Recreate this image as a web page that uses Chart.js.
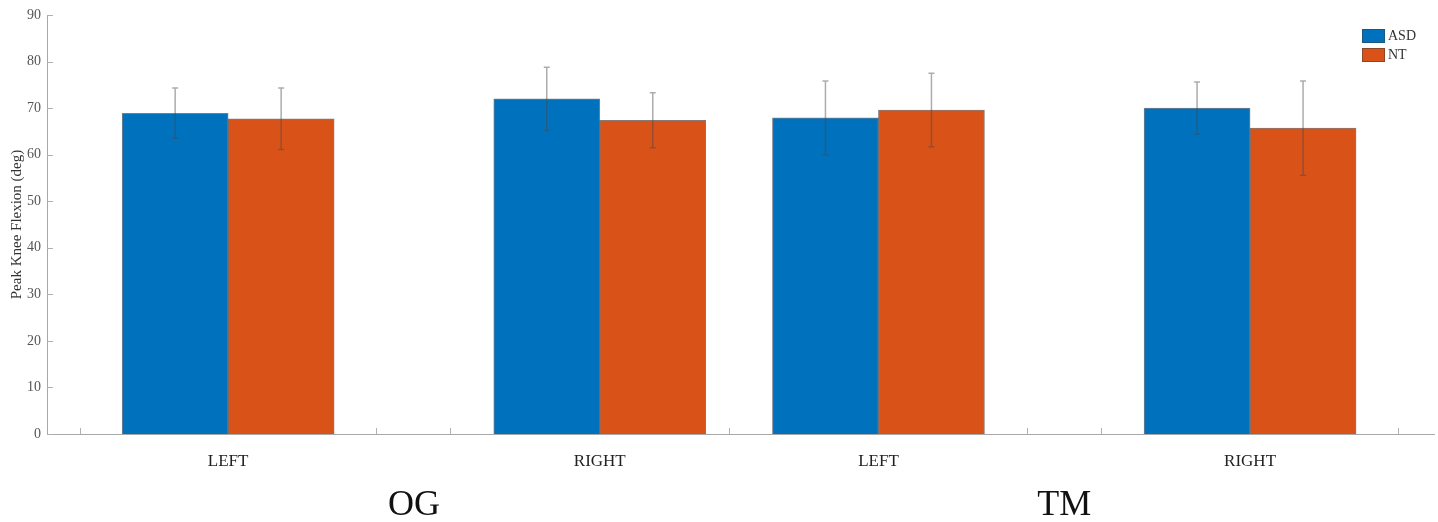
<!DOCTYPE html>
<html>
<head>
<meta charset="utf-8">
<title>Peak Knee Flexion</title>
<script src="https://cdn.jsdelivr.net/npm/chart.js@4.4.0/dist/chart.umd.min.js"></script>
<style>
	html, body { margin: 0; padding: 0; background: #ffffff; }
	#wrap { width: 1438px; height: 522px; }
</style>
</head>
<body>
<div id="wrap"><canvas id="knee" width="1438" height="522"></canvas></div>
<script>
/* datos */
const sides = ["LEFT", "RIGHT", "LEFT", "RIGHT"];
const sidePos = [2, 6, 9, 13];
const conditions = ["OG", "TM"];
const conditionPos = [4, 11];
const asdMean = [68.9, 72.0, 67.9, 70.0];
const asdSD = [5.4, 6.8, 7.9, 5.6];
const ntMean = [67.7, 67.4, 69.6, 65.7];
const ntSD = [6.6, 5.9, 7.9, 10.1];
const yTicks = [0, 10, 20, 30, 40, 50, 60, 70, 80, 90];
const xMinorTicks = [0.4, 3.59, 4.39, 7.39, 10.6, 11.4, 14.59];

const serif = "'Liberation Serif', 'DejaVu Serif', serif";

function toPoints(vals) {
	return vals.map((v, i) => ({ x: sidePos[i], y: v }));
}

/* barras de error (media +- DE) */
const errorBars = {
	id: "errorBars",
	afterDatasetsDraw(chart) {
		const ctx = chart.ctx;
		const yScale = chart.scales.y;
		const sds = [asdSD, ntSD];
		ctx.save();
		ctx.strokeStyle = "rgba(70, 70, 70, 0.45)";
		ctx.lineWidth = 1.5;
		chart.data.datasets.forEach((ds, di) => {
			const meta = chart.getDatasetMeta(di);
			meta.data.forEach((bar, i) => {
				const m = ds.data[i].y;
				const top = yScale.getPixelForValue(m + sds[di][i]);
				const bot = yScale.getPixelForValue(m - sds[di][i]);
				ctx.beginPath();
				ctx.moveTo(bar.x, top);
				ctx.lineTo(bar.x, bot);
				ctx.moveTo(bar.x - 3, top);
				ctx.lineTo(bar.x + 3, top);
				ctx.moveTo(bar.x - 3, bot);
				ctx.lineTo(bar.x + 3, bot);
				ctx.stroke();
			});
		});
		ctx.restore();
	}
};

/* marcas hacia dentro, como en MATLAB, y leyenda en la esquina */
const insideTicks = {
	id: "insideTicks",
	afterDraw(chart) {
		const ctx = chart.ctx;
		const xs = chart.scales.x;
		const ys = chart.scales.y;
		const area = chart.chartArea;
		ctx.save();
		ctx.strokeStyle = "#b0b0b0";
		ctx.lineWidth = 1;
		ctx.beginPath();
		xMinorTicks.forEach(v => {
			const px = Math.round(xs.getPixelForValue(v)) + 0.5;
			ctx.moveTo(px, area.bottom);
			ctx.lineTo(px, area.bottom - 6);
		});
		yTicks.forEach(v => {
			const py = Math.round(ys.getPixelForValue(v)) + 0.5;
			ctx.moveTo(area.left, py);
			ctx.lineTo(area.left + 6, py);
		});
		ctx.stroke();

		// leyenda
		const lx = area.right - 72;
		ctx.font = "14px " + serif;
		ctx.textBaseline = "middle";
		ctx.textAlign = "left";
		chart.data.datasets.forEach((ds, i) => {
			const ly = 29 + i * 19;
			ctx.fillStyle = ds.backgroundColor;
			ctx.fillRect(lx, ly, 23, 14);
			ctx.strokeStyle = "rgba(60,60,60,0.5)";
			ctx.strokeRect(lx + 0.5, ly + 0.5, 22, 13);
			ctx.fillStyle = "#333333";
			ctx.fillText(ds.label, lx + 26, ly + 7);
		});
		ctx.restore();
	}
};

const G4knee = document.getElementById("knee").getContext("2d");
let Knee = new Chart(G4knee, {
	type: "bar",
	data: {
		datasets: [
			{
				label: "ASD",
				data: toPoints(asdMean),
				backgroundColor: "#0072BD",
				borderColor: "rgba(30, 40, 60, 0.6)",
				borderWidth: 1,
				barThickness: 106,
			},
			{
				label: "NT",
				data: toPoints(ntMean),
				backgroundColor: "#D95319",
				borderColor: "rgba(60, 30, 20, 0.6)",
				borderWidth: 1,
				barThickness: 106,
			}
		],
	},
	options: {
		responsive: false,
		animation: false,
		layout: { padding: { top: 15, right: 4, left: 0, bottom: 0 } },
		scales: {
			x: {
				type: "linear",
				min: 0.05,
				max: 14.98,
				offset: false,
				position: "bottom",
				grid: { display: false, drawTicks: false, offset: false },
				border: { display: true, color: "#a8a8a8", width: 1 },
				afterBuildTicks: s => { s.ticks = sidePos.map(v => ({ value: v })); },
				afterFit: s => { s.height = 40; },
				ticks: {
					autoSkip: false,
					maxRotation: 0,
					padding: 17,
					color: "#222222",
					font: { family: serif, size: 17 },
					callback: (v, i) => sides[i],
				}
			},
			x2: {
				type: "linear",
				min: 0.05,
				max: 14.98,
				offset: false,
				position: "bottom",
				grid: { display: false, drawTicks: false, offset: false },
				border: { display: false },
				afterBuildTicks: s => { s.ticks = conditionPos.map(v => ({ value: v })); },
				afterFit: s => { s.height = 48; },
				ticks: {
					autoSkip: false,
					maxRotation: 0,
					padding: 10,
					color: "#111111",
					font: { family: serif, size: 36 },
					callback: (v, i) => conditions[i],
				}
			},
			y: {
				min: 0,
				max: 90,
				grid: { display: false, drawTicks: false },
				border: { display: true, color: "#a8a8a8", width: 1 },
				afterBuildTicks: s => { s.ticks = yTicks.map(v => ({ value: v })); },
				afterFit: s => { s.width = 47; },
				ticks: {
					padding: 6,
					color: "#555555",
					font: { family: serif, size: 14 },
				},
				title: {
					display: true,
					text: "Peak Knee Flexion (deg)",
					color: "#333333",
					font: { family: serif, size: 15 },
					padding: { top: 8, bottom: 4 },
				}
			}
		},
		plugins: {
			legend: { display: false },
			tooltip: { enabled: false },
		}
	},
	plugins: [errorBars, insideTicks],
});
</script>
</body>
</html>
